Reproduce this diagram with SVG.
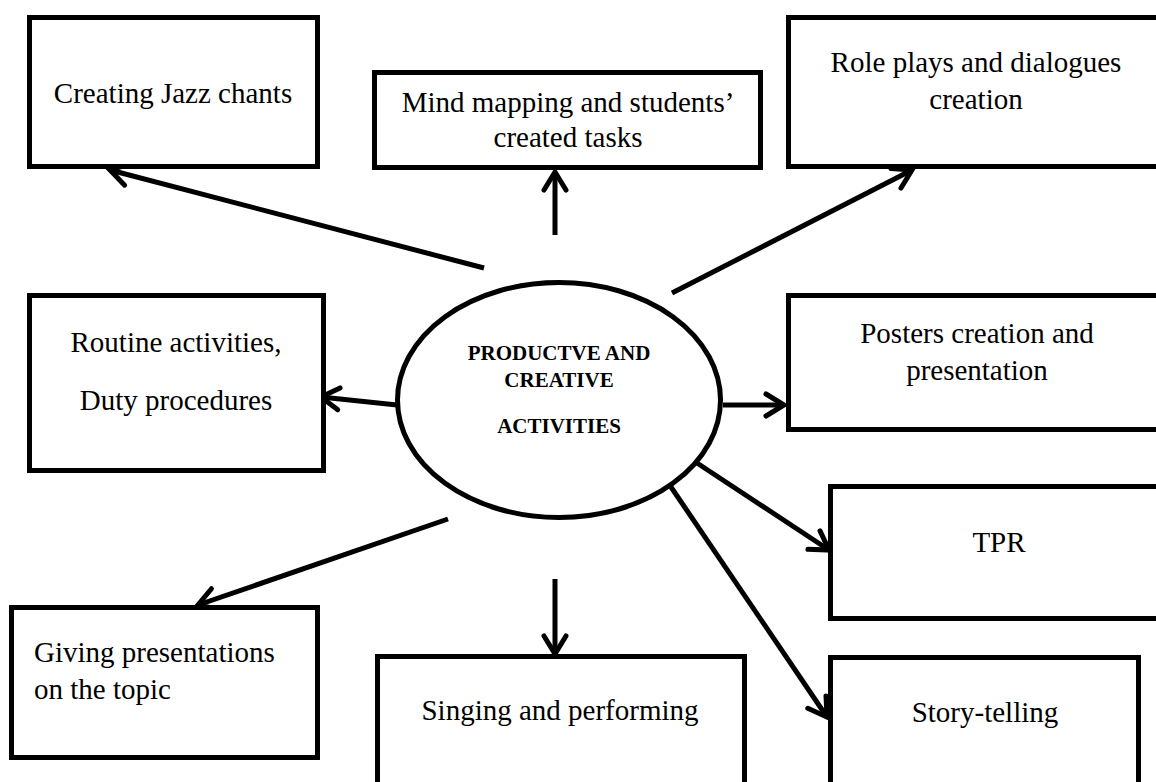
<svg xmlns="http://www.w3.org/2000/svg" width="1156" height="782" viewBox="0 0 1156 782">
  <style>
    .box { fill: #fff; stroke: #000; stroke-width: 5; }
    .hub { fill: #fff; stroke: #000; stroke-width: 5; }
    .lbl { font-family: "Liberation Serif", "Times New Roman", serif; font-size: 29px; fill: #000; }
    .mid { text-anchor: middle; }
    .hubtxt { font-family: "Liberation Serif", "Times New Roman", serif; font-size: 21px; font-weight: bold; fill: #000; text-anchor: middle; }
    .link { fill: none; stroke: #000; stroke-width: 5; marker-end: url(#chevron); }
  </style>
  <defs>
    <marker id="chevron" markerUnits="userSpaceOnUse" orient="auto" markerWidth="30" markerHeight="30" refX="0" refY="0" viewBox="-24 -15 30 30" overflow="visible">
      <path d="M -18 -11 L 0 0 L -18 11" fill="none" stroke="#000" stroke-width="5" stroke-linecap="round" stroke-linejoin="miter"/>
    </marker>
  </defs>

  <rect width="1156" height="782" fill="#fff"/>

  <!-- connectors from the central ellipse -->
  <g id="connectors">
    <line class="link" x1="484" y1="268" x2="110" y2="170"/>
    <line class="link" x1="555" y1="235" x2="555" y2="172"/>
    <line class="link" x1="672" y1="293" x2="912" y2="170"/>
    <line class="link" x1="397" y1="405" x2="321" y2="397"/>
    <line class="link" x1="723" y1="405" x2="784" y2="405"/>
    <line class="link" x1="697" y1="463" x2="829" y2="550"/>
    <line class="link" x1="671" y1="487" x2="827" y2="717"/>
    <line class="link" x1="555" y1="579" x2="555" y2="654"/>
    <line class="link" x1="448" y1="519" x2="198" y2="605"/>
  </g>

  <g id="hub">
    <ellipse class="hub" cx="559" cy="400" rx="161.5" ry="117.5"/>
    <text class="hubtxt" x="559" y="360">PRODUCTVE AND</text>
    <text class="hubtxt" x="559" y="387">CREATIVE</text>
    <text class="hubtxt" x="559" y="433">ACTIVITIES</text>
  </g>

  <g id="jazz-chants">
    <rect class="box" x="29.5" y="17.5" width="288" height="149"/>
    <text class="lbl mid" x="173" y="103">Creating Jazz chants</text>
  </g>

  <g id="mind-mapping">
    <rect class="box" x="374.5" y="72.5" width="386" height="95"/>
    <text class="lbl mid" x="568" y="112">Mind mapping and students’</text>
    <text class="lbl mid" x="568" y="147">created tasks</text>
  </g>

  <g id="role-plays">
    <rect class="box" x="788.5" y="17.5" width="400" height="149"/>
    <text class="lbl mid" x="976" y="72">Role plays and dialogues</text>
    <text class="lbl mid" x="976" y="109">creation</text>
  </g>

  <g id="routine">
    <rect class="box" x="29.5" y="295.5" width="294" height="175"/>
    <text class="lbl mid" x="176" y="352">Routine activities,</text>
    <text class="lbl mid" x="176" y="410">Duty procedures</text>
  </g>

  <g id="posters">
    <rect class="box" x="788.5" y="295.5" width="400" height="134"/>
    <text class="lbl mid" x="977" y="343">Posters creation and</text>
    <text class="lbl mid" x="977" y="380">presentation</text>
  </g>

  <g id="tpr">
    <rect class="box" x="830.5" y="486.5" width="400" height="132"/>
    <text class="lbl mid" x="999" y="552">TPR</text>
  </g>

  <g id="story-telling">
    <rect class="box" x="830.5" y="657.5" width="308" height="200"/>
    <text class="lbl mid" x="985" y="722">Story-telling</text>
  </g>

  <g id="singing">
    <rect class="box" x="377.5" y="656.5" width="367" height="200"/>
    <text class="lbl mid" x="560" y="720">Singing and performing</text>
  </g>

  <g id="presentations">
    <rect class="box" x="11.5" y="607.5" width="306" height="150"/>
    <text class="lbl" x="34" y="662">Giving presentations</text>
    <text class="lbl" x="34" y="699">on the topic</text>
  </g>
</svg>
